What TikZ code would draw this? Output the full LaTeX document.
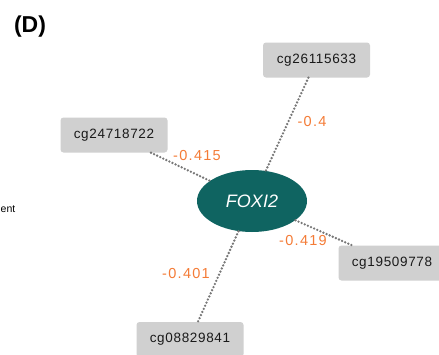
\documentclass[tikz,border=0pt]{standalone}
\usepackage{fontspec}
\setmainfont{Liberation Sans}
\usetikzlibrary{shapes.geometric}
\definecolor{boxgray}{HTML}{D0D0D0}
\definecolor{teal}{HTML}{0F6461}
\definecolor{lblorange}{HTML}{F47B36}
\definecolor{edgegray}{HTML}{777777}
\definecolor{txtdark}{HTML}{1A1A1A}
\begin{document}
\begin{tikzpicture}[x=1pt,y=-1pt,
  cpgbox/.style={fill=boxgray, rounded corners=3pt, minimum width=107pt, minimum height=35pt,
    inner sep=0pt, text=txtdark, font=\fontsize{13.5}{15}\selectfont\addfontfeatures{LetterSpace=5}},
  genenode/.style={ellipse, fill=teal, minimum width=110pt, minimum height=62pt, inner sep=0pt,
    text=white, font=\fontsize{18}{20}\selectfont\itshape},
  corrlink/.style={draw=edgegray, line width=2.6pt, line cap=round, dash pattern=on 0pt off 3.4pt},
  corrlabel/.style={text=lblorange, inner sep=0pt, font=\fontsize{14.5}{16}\selectfont\addfontfeatures{LetterSpace=9}}
]
\useasboundingbox (0,0) rectangle (439,354);
\node[inner sep=0pt, font=\fontsize{23}{26}\selectfont\bfseries] (title) at (30,27) {(D)};
\node[inner sep=0pt, anchor=east, font=\fontsize{10.5}{12}\selectfont] (frag) at (15.5,209) {ent};

\node[genenode] (foxi) at (252,201) {FOXI2};
\node[cpgbox] (c1) at (316.5,60) {cg26115633};
\node[cpgbox] (c2) at (114,135) {cg24718722};
\node[cpgbox] (c3) at (392,263) {cg19509778};
\node[cpgbox] (c4) at (190,339.5) {cg08829841};

\draw[corrlink] (c1) -- (foxi);
\draw[corrlink] (c2) -- (foxi);
\draw[corrlink] (foxi) -- (c3);
\draw[corrlink] (foxi) -- (c4);

\node[corrlabel] (l1) at (312,122) {-0.4};
\node[corrlabel] (l2) at (197,156) {-0.415};
\node[corrlabel] (l3) at (303,241) {-0.419};
\node[corrlabel] (l4) at (186,274) {-0.401};
\end{tikzpicture}
\end{document}
